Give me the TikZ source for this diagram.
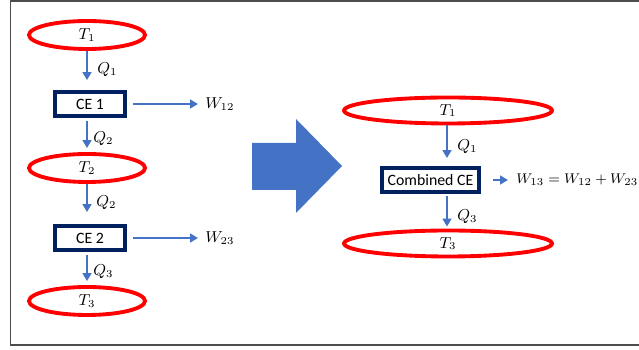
\documentclass[tikz,border=0pt]{standalone}
\usepackage{amsmath}
\usepackage{fontspec}
\newfontfamily\calib{Carlito}
\usetikzlibrary{arrows.meta, shapes.geometric}
\definecolor{bleuF}{HTML}{4472C4}
\definecolor{marine}{HTML}{002060}

\begin{document}
\begin{tikzpicture}[x=0.02cm, y=-0.02cm, font=\fontsize{9}{11}\selectfont,
    source/.style={ellipse, draw=red, line width=2.2pt, inner sep=0pt},
    machine/.style={draw=marine, line width=2.2pt, inner sep=0pt, minimum height=0.48cm,
        font=\calib\fontsize{9}{11}\selectfont},
    flux/.style={-{Triangle[length=4.5pt, width=5pt]}, bleuF, line width=1.1pt},
    lab/.style={anchor=west, inner sep=0pt}]
    \useasboundingbox (0,0) rectangle (639,350);

    % Cadre
    \draw[gray!60!black, line width=0.6pt] (639,1) -- (10.5,1) -- (10.5,345) -- (639,345);

    % Deux machines en serie (a gauche)
    \node[source, minimum width=2.32cm, minimum height=0.56cm] (T1) at (87,35) {$T_1$};
    \node[machine, minimum width=1.4cm] (CE1) at (90,104) {CE 1};
    \node[source, minimum width=2.32cm, minimum height=0.56cm] (T2) at (87,168) {$T_2$};
    \node[machine, minimum width=1.4cm] (CE2) at (90,238) {CE 2};
    \node[source, minimum width=2.32cm, minimum height=0.56cm] (T3) at (87,301) {$T_3$};

    \node[lab] (q1) at (97,70) {$Q_1$};
    \node[lab] (q2a) at (93,139) {$Q_2$};
    \node[lab] (q2b) at (96,203) {$Q_2$};
    \node[lab] (q3) at (93,272) {$Q_3$};
    \node[lab] (w12) at (205,104) {$W_{12}$};
    \node[lab] (w23) at (205,238) {$W_{23}$};

    \draw[flux, shorten >=0.2cm] (T1.south) -- (T1.south |- CE1.north);
    \draw[flux, shorten <=0.06cm, shorten >=0.08cm] (T2.north |- CE1.south) -- (T2.north);
    \draw[flux, shorten >=0.24cm] (T2.south) -- (T2.south |- CE2.north);
    \draw[flux, shorten <=0.06cm, shorten >=0.08cm] (T3.north |- CE2.south) -- (T3.north);
    \draw[flux, shorten <=0.12cm, shorten >=0.14cm] (CE1.east) -- (w12.west);
    \draw[flux, shorten <=0.12cm, shorten >=0.14cm] (CE2.east) -- (w23.west);

    % Grosse fleche
    \fill[bleuF] (252,143) -- (296,143) -- (296,119) -- (342,166) -- (296,213)
        -- (296,190) -- (252,190) -- cycle;

    % Machine combinee (a droite)
    \node[source, minimum width=4.16cm, minimum height=0.52cm] (T1b) at (448,110.5) {$T_1$};
    \node[machine, minimum width=1.94cm] (CEc) at (430.5,180) {Combined CE};
    \node[source, minimum width=4.16cm, minimum height=0.52cm] (T3b) at (448,243.5) {$T_3$};

    \node[lab] (q1b) at (457,147) {$Q_1$};
    \node[lab] (q3b) at (457,217) {$Q_3$};
    \node[lab, font=\fontsize{8.4}{10}\selectfont] (w13) at (516,180) {$W_{13} = W_{12} + W_{23}$};

    \draw[flux, shorten >=0.16cm] (447,0 |- T1b.south) -- (447,0 |- CEc.north);
    \draw[flux, shorten <=0.04cm, shorten >=0.04cm] (447,0 |- CEc.south) -- (447,0 |- T3b.north);
    \draw[flux, shorten <=0.24cm, shorten >=0.16cm] (CEc.east) -- (w13.west);
\end{tikzpicture}
\end{document}
